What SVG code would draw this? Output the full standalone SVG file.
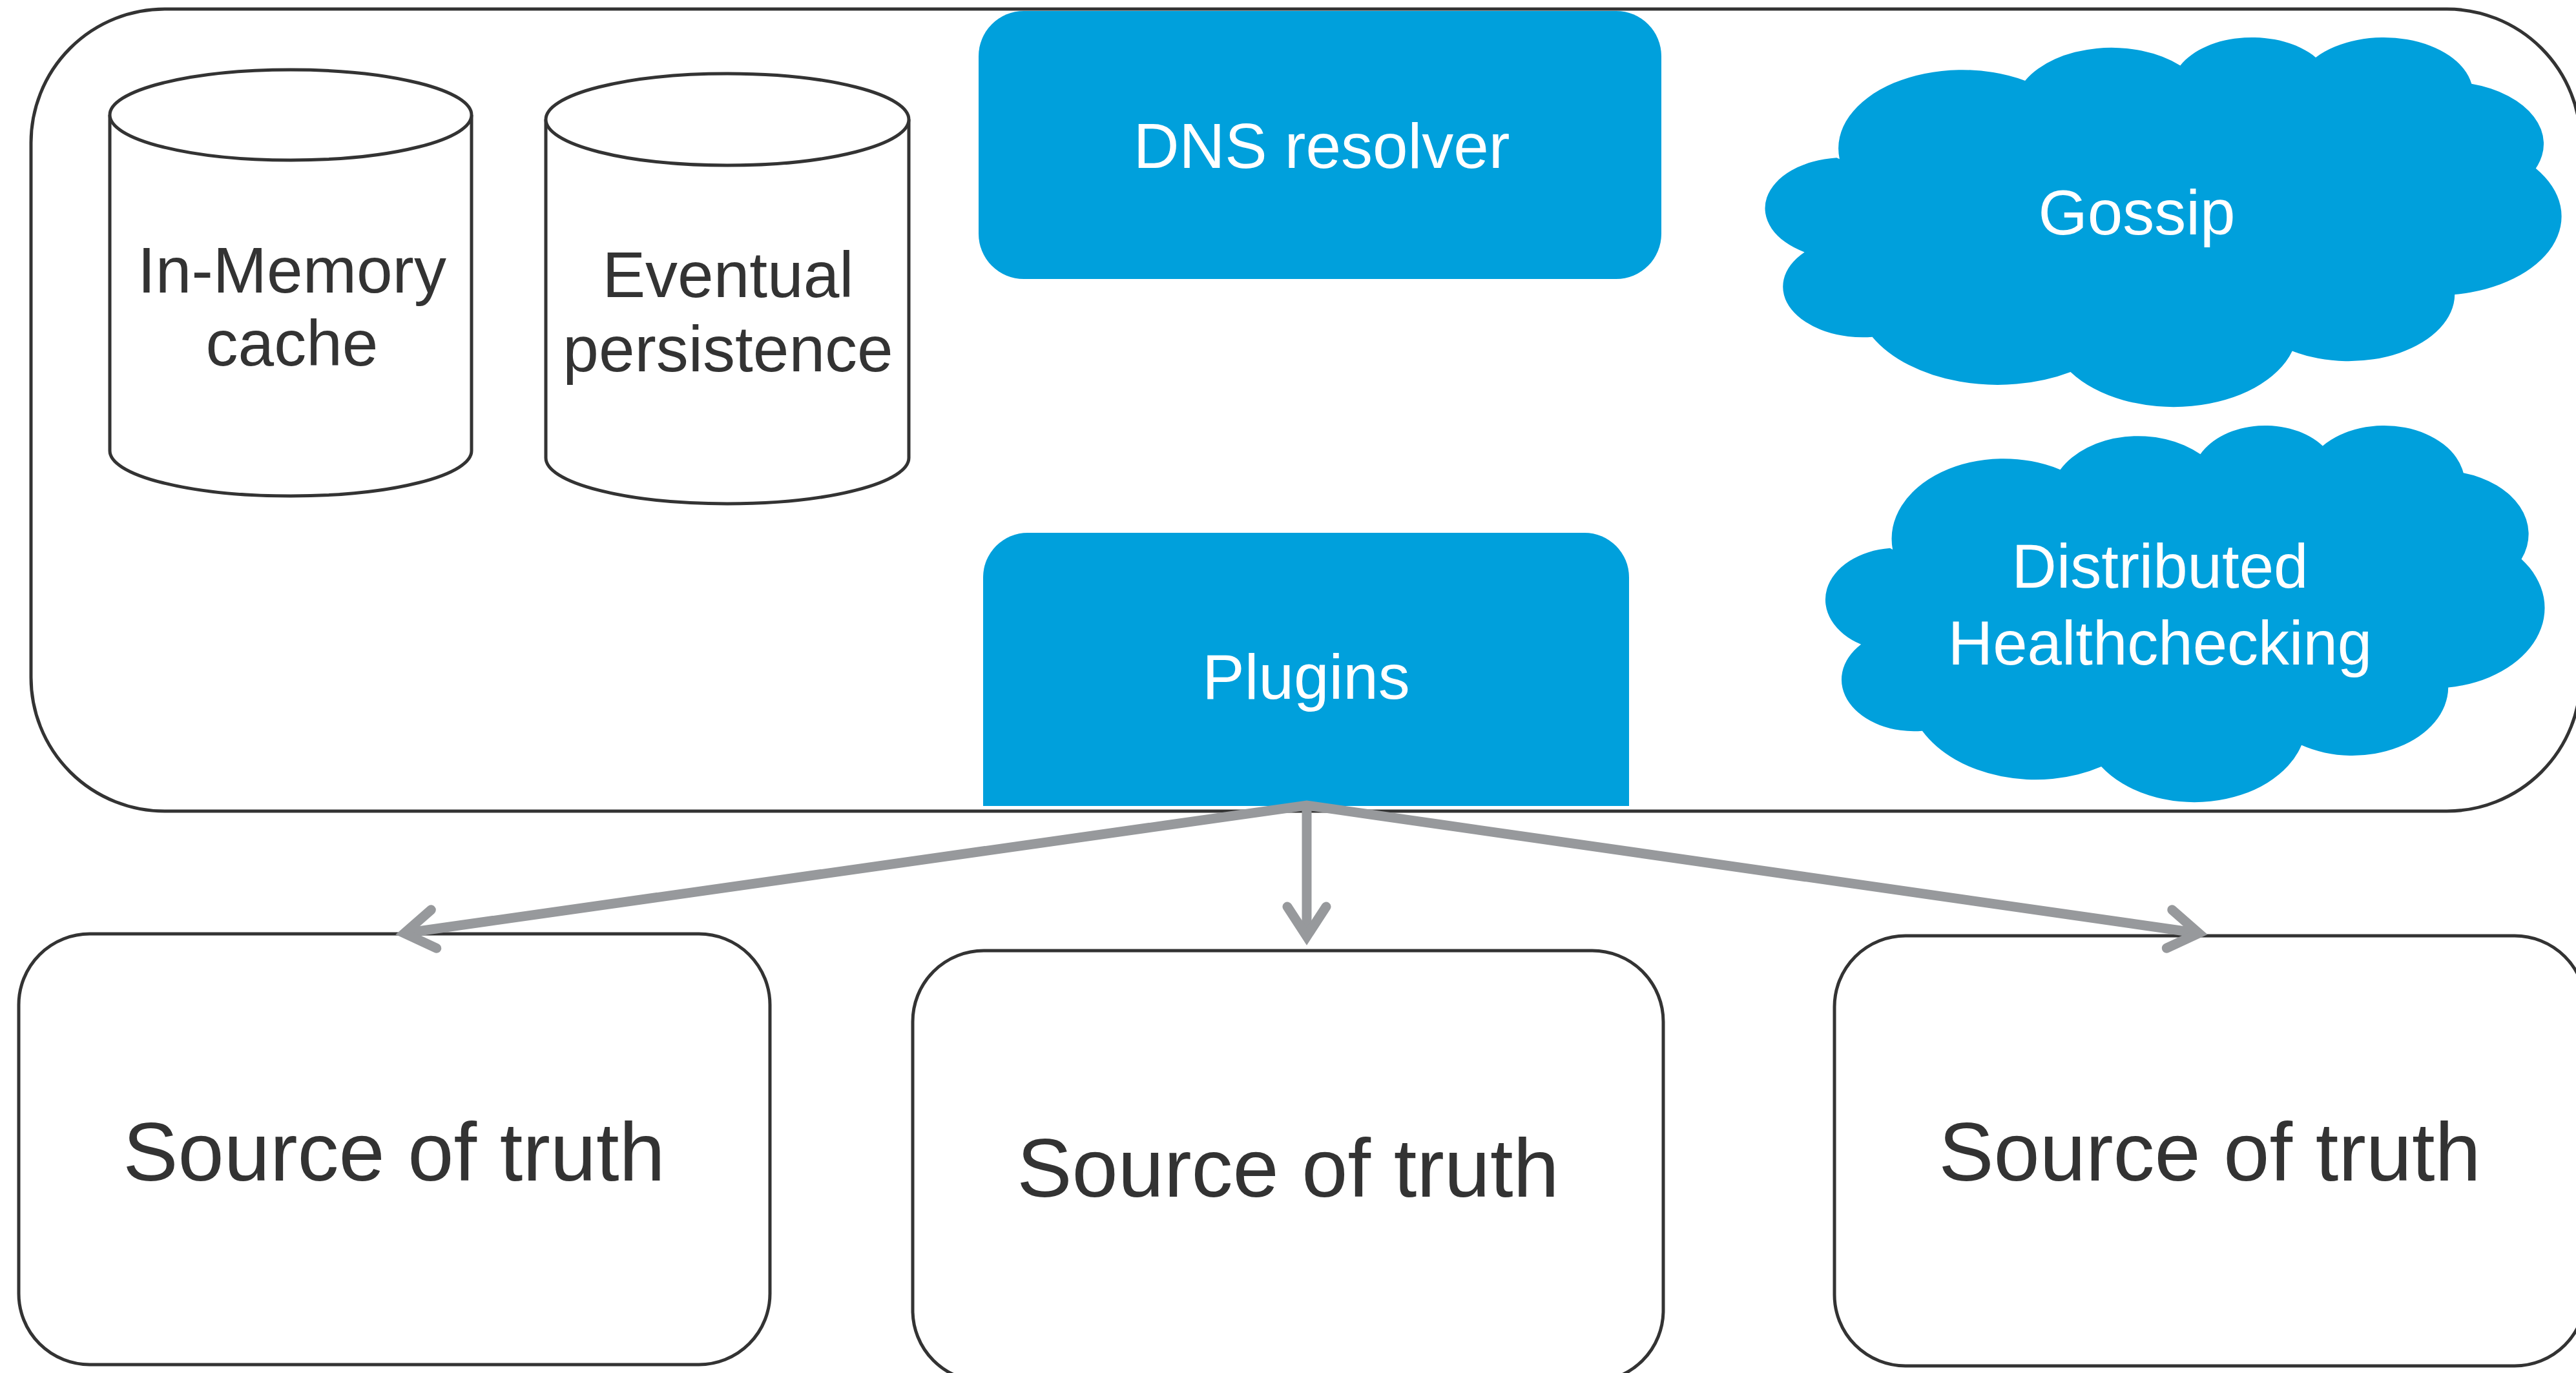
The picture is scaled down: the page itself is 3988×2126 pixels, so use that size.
<svg xmlns="http://www.w3.org/2000/svg" width="3988" height="2126" viewBox="0 0 3988 2126">
  <style>
    .outline { fill: #ffffff; stroke: #333333; stroke-width: 5; }
    .blue { fill: #00A0DC; stroke: none; }
    .dark { font-family: "Liberation Sans", Arial, sans-serif; fill: #333333; text-anchor: middle; }
    .light { font-family: "Liberation Sans", Arial, sans-serif; fill: #ffffff; text-anchor: middle; }
    .wire { stroke: #97999C; stroke-width: 15; fill: none; stroke-linecap: butt; stroke-linejoin: miter; }
  </style>
  <defs>
    <!-- cloud outline in a 43200 x 43200 unit box -->
    <path id="cloud" d="M 3900 14370 A 6753 9190 0 0 1 14006 5203 A 5333 7267 0 0 1 22457 3435 A 4365 5945 0 0 1 29834 2483 A 4857 6595 0 0 1 38320 5578 A 5333 7273 0 0 1 41820 15462 A 6775 9220 0 0 1 37405 30205 A 5785 7867 0 0 1 28557 36815 A 6752 9215 0 0 1 16482 39267 A 7720 10543 0 0 1 5685 35174 A 4360 5918 0 0 1 1992 25255 A 4345 5945 0 0 1 3741 14211 Z"/>
    <marker id="arrow" markerUnits="userSpaceOnUse" viewBox="-100 -100 200 200" markerWidth="200" markerHeight="200" refX="0" refY="0" orient="auto-start-reverse" overflow="visible">
      <path d="M -46 -30 L 0 0 L -46 30" fill="none" stroke="#97999C" stroke-width="15" stroke-linecap="round" stroke-linejoin="miter"/>
    </marker>
  </defs>

  <rect width="3988" height="2126" fill="#ffffff"/>

  <!-- outer host container -->
  <g id="host">
    <rect class="outline" x="48" y="14" width="3947" height="1242" rx="207" ry="207"/>
  </g>

  <g id="in-memory-cache">
    <path class="outline" d="M 170 178 L 170 698 A 280 70 0 0 0 730 698 L 730 178"/>
    <ellipse class="outline" cx="450" cy="178" rx="280" ry="70"/>
    <text class="dark" font-size="100" x="452" y="453">In-Memory</text>
    <text class="dark" font-size="100" x="452" y="566">cache</text>
  </g>

  <g id="eventual-persistence">
    <path class="outline" d="M 845 185 L 845 709 A 281 71 0 0 0 1407 709 L 1407 185"/>
    <ellipse class="outline" cx="1126" cy="185" rx="281" ry="71"/>
    <text class="dark" font-size="100" x="1127" y="460">Eventual</text>
    <text class="dark" font-size="100" x="1127" y="575">persistence</text>
  </g>

  <g id="dns-resolver">
    <rect class="blue" x="1515" y="17" width="1057" height="415" rx="70" ry="70"/>
    <text class="light" font-size="98" x="2046" y="260">DNS resolver</text>
  </g>

  <g id="plugins">
    <path class="blue" d="M 1522 1248 L 1522 894 A 69 69 0 0 1 1591 825 L 2453 825 A 69 69 0 0 1 2522 894 L 2522 1248 Z"/>
    <text class="light" font-size="98" x="2022" y="1082">Plugins</text>
  </g>

  <g id="gossip">
    <use href="#cloud" class="blue" transform="translate(2737 56) scale(0.028426 0.013241)"/>
    <text class="light" font-size="98" x="3308" y="363">Gossip</text>
  </g>

  <g id="distributed-healthchecking">
    <use href="#cloud" class="blue" transform="translate(2830 657) scale(0.025671 0.013495)"/>
    <text class="light" font-size="96" x="3344" y="910">Distributed</text>
    <text class="light" font-size="96" x="3344" y="1029">Healthchecking</text>
  </g>

  <g id="source-left">
    <rect class="outline" x="29" y="1446" width="1163" height="667" rx="110" ry="110"/>
    <text class="dark" font-size="128" x="610" y="1828">Source of truth</text>
  </g>

  <g id="source-middle">
    <rect class="outline" x="1413" y="1472" width="1162" height="667" rx="110" ry="110"/>
    <text class="dark" font-size="128" x="1994" y="1853">Source of truth</text>
  </g>

  <g id="source-right">
    <rect class="outline" x="2840" y="1449" width="1163" height="666" rx="110" ry="110"/>
    <text class="dark" font-size="128" x="3421" y="1828">Source of truth</text>
  </g>

  <!-- plugin fan-out to the sources of truth -->
  <g id="connectors">
    <line class="wire" x1="2023" y1="1252" x2="2023" y2="1450" marker-end="url(#arrow)"/>
    <path class="wire" d="M 626 1445 L 2023 1247 L 3404 1445" marker-start="url(#arrow)" marker-end="url(#arrow)"/>
  </g>
</svg>
